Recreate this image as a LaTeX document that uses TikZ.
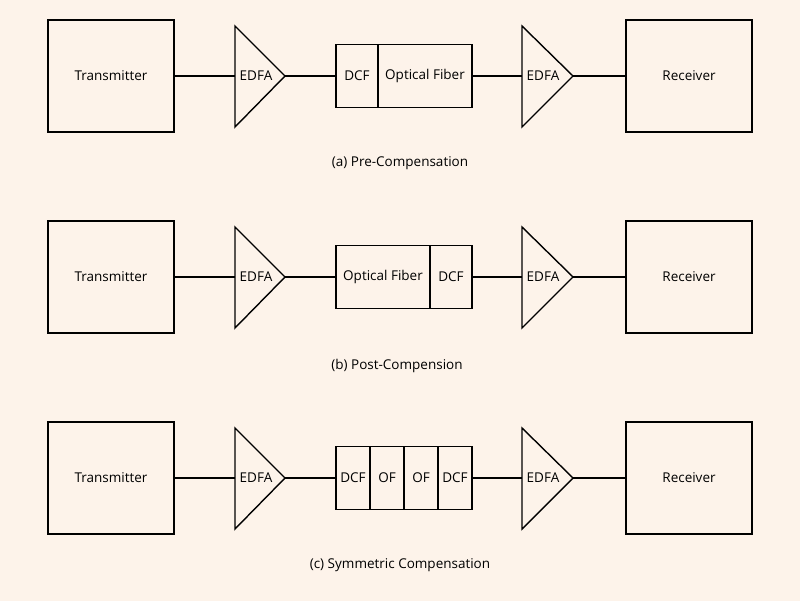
\documentclass[tikz,border=0pt]{standalone}
\usepackage{fontspec}
\setmainfont{Open Sans}
\usetikzlibrary{positioning}
\definecolor{bgpaper}{HTML}{FDF3EA}
\tikzstyle{unit}=[draw, line width=1.4pt, minimum width=126pt, minimum height=112pt, inner sep=0pt, outer sep=0pt]
\tikzstyle{seg}=[draw, line width=1.4pt, minimum height=63pt, inner sep=0pt, outer sep=0pt]
\tikzstyle{amp}=[draw, line width=1.4pt]
\tikzstyle{link}=[line width=1.4pt]
\tikzstyle{caption}=[inner sep=0pt]
\begin{document}
\begin{tikzpicture}[x=1pt,y=-1pt,font=\fontsize{13.5}{16}\selectfont]
\fill[bgpaper] (0,0) rectangle (800,601);
\useasboundingbox (0,0) rectangle (800,601);
\foreach \row/\yc in {a/76,b/277,c/478} {
  \node[unit] (tx\row) at (111,\yc) {Transmitter};
  \node[unit] (rx\row) at (689,\yc) {Receiver};
  % amplifiers
  \draw[amp] (235,\yc-50) -- (285,\yc) -- (235,\yc+51) -- cycle;
  \draw[amp] (522,\yc-50) -- (573,\yc) -- (522,\yc+51) -- cycle;
  \node (ea\row) at (256,\yc) {EDFA};
  \node (eb\row) at (543,\yc) {EDFA};
  \coordinate (eain\row) at (235,\yc);
  \coordinate (eaout\row) at (285,\yc);
  \coordinate (ebin\row) at (522,\yc);
  \coordinate (ebout\row) at (573,\yc);
}
% fiber spans
\node[seg, minimum width=42pt] (dcfa) at (357,76) {DCF};
\node[seg, minimum width=94pt, right=0pt of dcfa] (ofa) {Optical Fiber};
\node[seg, minimum width=94pt] (ofb) at (383,277) {Optical Fiber};
\node[seg, minimum width=42pt, right=0pt of ofb] (dcfb) {DCF};
\node[seg, minimum width=34pt] (dcfc) at (353,478) {DCF};
\node[seg, minimum width=34pt, right=0pt of dcfc] (ofc) {OF};
\node[seg, minimum width=34pt, right=0pt of ofc] (ofd) {OF};
\node[seg, minimum width=34pt, right=0pt of ofd] (dcfd) {DCF};
% connectors
\draw[link] (txa) -- (eaina) (eaouta) -- (dcfa) (ofa) -- (ebina) (ebouta) -- (rxa);
\draw[link] (txb) -- (eainb) (eaoutb) -- (ofb) (dcfb) -- (ebinb) (eboutb) -- (rxb);
\draw[link] (txc) -- (eainc) (eaoutc) -- (dcfc) (dcfd) -- (ebinc) (eboutc) -- (rxc);
% captions
\node[caption] (capa) at (400,163) {(a) Pre-Compensation};
\node[caption] (capb) at (397,366) {(b) Post-Compension};
\node[caption] (capc) at (400,565) {(c) Symmetric Compensation};
\end{tikzpicture}
\end{document}
